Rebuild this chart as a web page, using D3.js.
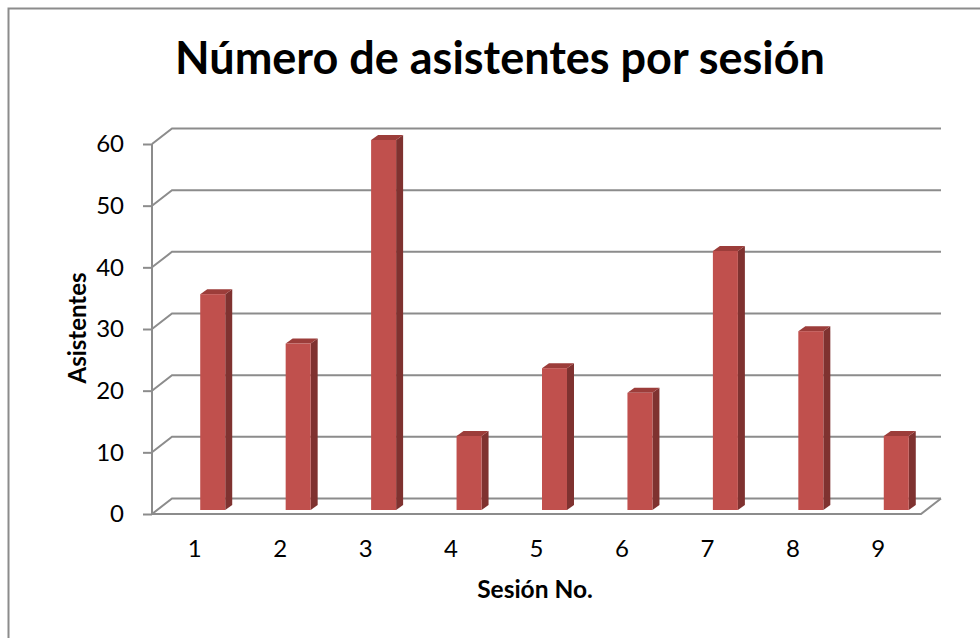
<!DOCTYPE html>
<meta charset="utf-8">
<body style="margin:0;background:#fff">
  <style>
    text { font-family: Lato, "Open Sans", sans-serif; fill: #000; }
    .axis .domain { display: none; }
    .axis line { stroke: #8c8c8c; stroke-width: 2; }
  </style>
  <div id="chart"></div>
  <script src="https://d3js.org/d3.v7.min.js"></script>
  <script>
    var sessions = ["1", "2", "3", "4", "5", "6", "7", "8", "9"];
    var attendees = [35, 27, 60, 12, 23, 19, 42, 29, 12];
    var yTicks = [0, 10, 20, 30, 40, 50, 60];

    var width = 980, height = 638;
    var depthX = 20, depthY = 15.5;   // back wall offset
    var barShiftX = 18, barShiftY = -4, barW = 25, barDX = 7, barDY = 5;

    var svg = d3.select("#chart").append("svg")
      .attr("width", width)
      .attr("height", height);

    // outer frame
    svg.append("rect")
      .attr("x", 8.5).attr("y", 8.5)
      .attr("width", 1000).attr("height", 700)
      .attr("fill", "none")
      .attr("stroke", "#8c8c8c")
      .attr("stroke-width", 2);

    var x = d3.scaleBand()
      .domain(sessions)
      .range([152, 921]);

    var y = d3.scaleLinear()
      .domain([0, 60])
      .range([514, 144]);

    var x0 = x.range()[0], x1 = x.range()[1];

    // back wall gridlines + side wall diagonals
    var grid = svg.append("g")
      .attr("stroke", "#8c8c8c")
      .attr("stroke-width", 2)
      .attr("fill", "none");

    grid.selectAll("path.g")
      .data(yTicks)
      .enter().append("path")
      .attr("class", "g")
      .attr("d", function(d) {
        return "M" + x0 + "," + y(d) + "L" + (x0 + depthX) + "," + (y(d) - depthY) +
          "L" + (x1 + depthX) + "," + (y(d) - depthY);
      });

    // floor front + right edge
    grid.append("path")
      .attr("d", "M" + x0 + "," + y(0) + "L" + x1 + "," + y(0) +
        "L" + (x1 + depthX) + "," + (y(0) - depthY));

    // vertical axis line
    grid.append("path")
      .attr("d", "M" + x0 + "," + y(60) + "L" + x0 + "," + y(0));

    // y axis ticks + labels
    svg.append("g")
      .attr("class", "axis")
      .attr("transform", "translate(" + x0 + ",0)")
      .call(d3.axisLeft(y).tickValues(yTicks).tickSize(9).tickPadding(19))
      .selectAll("text")
      .style("font-size", "24px")
      .style("font-family", "Lato, sans-serif");

    // x axis labels
    svg.append("g")
      .attr("class", "axis")
      .attr("transform", "translate(0," + y(0) + ")")
      .call(d3.axisBottom(x).tickSize(0).tickPadding(26))
      .selectAll("text")
      .style("font-size", "24px")
      .style("font-family", "Lato, sans-serif");

    // bars
    var bars = svg.selectAll("g.bar")
      .data(attendees)
      .enter().append("g")
      .attr("class", "bar");

    function bx(d, i) { return x(sessions[i]) + x.bandwidth() / 2 + barShiftX - barW / 2; }
    var base = y(0) + barShiftY;
    function barTop(d) { return y(d) + barShiftY; }

    // side face
    bars.append("path")
      .attr("fill", "#7f3230")
      .attr("d", function(d, i) {
        var l = bx(d, i) + barW;
        return "M" + l + "," + barTop(d) + "L" + (l + barDX) + "," + (barTop(d) - barDY) +
          "L" + (l + barDX) + "," + (base - barDY) + "L" + l + "," + base + "Z";
      });
    // top face
    bars.append("path")
      .attr("fill", "#9c3d3a")
      .attr("d", function(d, i) {
        var l = bx(d, i);
        return "M" + l + "," + barTop(d) + "L" + (l + barDX) + "," + (barTop(d) - barDY) +
          "L" + (l + barW + barDX) + "," + (barTop(d) - barDY) + "L" + (l + barW) + "," + barTop(d) + "Z";
      });
    // front face
    bars.append("rect")
      .attr("fill", "#c0504d")
      .attr("x", bx)
      .attr("y", barTop)
      .attr("width", barW)
      .attr("height", function(d) { return base - barTop(d); });

    // title
    svg.append("text")
      .attr("x", 500)
      .attr("y", 74)
      .style("text-anchor", "middle")
      .style("font-weight", "bold")
      .style("font-size", "45px")
      .text("Número de asistentes por sesión");

    // x axis title
    svg.append("text")
      .attr("x", 535)
      .attr("y", 598)
      .style("text-anchor", "middle")
      .style("font-weight", "bold")
      .style("font-size", "24.5px")
      .text("Sesión No.");

    // y axis title
    svg.append("text")
      .attr("transform", "translate(86,328) rotate(-90)")
      .style("text-anchor", "middle")
      .style("font-weight", "bold")
      .style("font-size", "24px")
      .text("Asistentes");
  </script>
</body>
